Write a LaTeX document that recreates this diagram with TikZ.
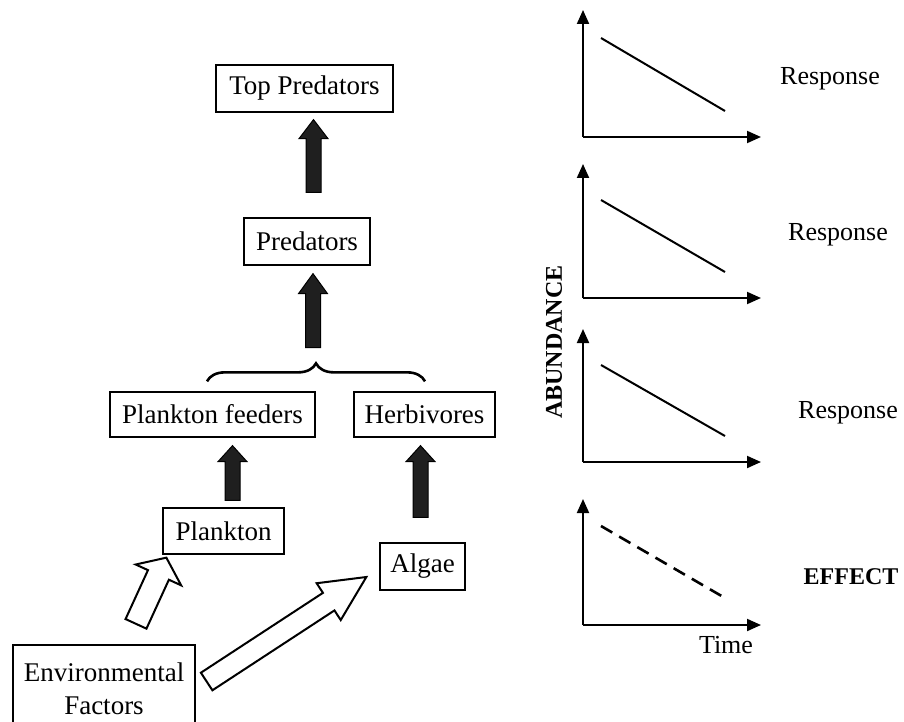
\documentclass[tikz,border=0pt]{standalone}
\usepackage{fontspec}
\setmainfont{Liberation Serif}
\usetikzlibrary{calc,arrows.meta,decorations.pathreplacing}
% fat arrow: #1 style, #2 tail, #3 tip, #4 half shaft, #5 half head, #6 head length
\newcommand\fatarrow[6]{%
  \draw[#1] ($(#2)!#4!90:(#3)$) -- ($(#3)!#6!(#2)!#4!-90:(#2)$)
    -- ($(#3)!#6!(#2)!#5!-90:(#2)$) -- (#3)
    -- ($(#3)!#6!(#2)!#5!90:(#2)$) -- ($(#3)!#6!(#2)!#4!90:(#2)$)
    -- ($(#2)!#4!-90:(#3)$) -- cycle;}
\begin{document}
\begin{tikzpicture}[x=1pt,y=-1pt,
  box/.style={draw, line width=1.3pt, inner sep=0pt, font=\fontsize{27}{32}\selectfont},
  darkarr/.style={draw=black, fill=black!88, line width=1pt, line join=miter},
  openarr/.style={draw=black, fill=white, line width=2pt, line join=miter},
  axis/.style={line width=2pt, -{Triangle[width=12pt,length=14pt]}},
  trend/.style={line width=2pt},
  lbl/.style={font=\fontsize{26}{30}\selectfont},
  blbl/.style={font=\fontsize{24}{28}\selectfont\bfseries}]
\useasboundingbox (0,0) rectangle (904,722);

% boxes
\node[box, minimum width=177, minimum height=47] (top) at (304.5,88.5) {Top Predators};
\node[box, minimum width=126, minimum height=47] (pred) at (307,241.5) {Predators};
\node[box, minimum width=205, minimum height=45] (pf) at (212.5,414.5) {Plankton feeders};
\node[box, minimum width=141, minimum height=45] (herb) at (424.5,414.5) {Herbivores};
\node[box, minimum width=121, minimum height=46] (plank) at (223.5,531) {Plankton};
\node[box, minimum width=85, minimum height=47] (algae) at (422.5,566.5) {Algae};
\node[box, minimum width=182, minimum height=87, align=center] (env) at (104,688.5) {Environmental\\[1pt]Factors};

% dark arrows
\coordinate (a1h) at ($(top.south)+(9,7)$);
\coordinate (a1t) at ($(pred.north)+(6.5,-25)$);
\coordinate (a2h) at ($(pred.south)+(6,8)$);
\coordinate (a2t) at ($(pred.south)+(6,82)$);
\coordinate (a3h) at ($(pf.south)+(20,8)$);
\coordinate (a3t) at ($(plank.north)+(9,-7)$);
\coordinate (a4h) at ($(herb.south)+(-4,8)$);
\coordinate (a4t) at ($(algae.north)+(-2,-25)$);
\fatarrow{darkarr}{a1t}{a1h}{7.5pt}{14.5pt}{19pt}
\fatarrow{darkarr}{a2t}{a2h}{7.5pt}{14.5pt}{20pt}
\fatarrow{darkarr}{a3t}{a3h}{7.5pt}{14.5pt}{16pt}
\fatarrow{darkarr}{a4t}{a4h}{7.5pt}{14.5pt}{16pt}

% open arrows
\coordinate (o1t) at ($(env.north)+(32,-20.5)$);
\coordinate (o1h) at ($(plank.south west)+(4,3)$);
\coordinate (o2t) at ($(env.east)+(11,-7)$);
\coordinate (o2h) at ($(algae.west)+(-13,10.5)$);
\fatarrow{openarr}{o1t}{o1h}{11.5pt}{25pt}{19pt}
\fatarrow{openarr}{o2t}{o2h}{10.5pt}{22pt}{45pt}

% brace
\coordinate (bl) at ($(pf.north)+(-5.5,-10)$);
\coordinate (br) at ($(herb.north)+(0.5,-10)$);
\draw[line width=2.6pt, decorate, decoration={brace, amplitude=18pt}] (bl) -- (br);

% graphs
\foreach \i/\oy/\ty/\ay/\by in {1/137/10/38/111, 2/298/164/200/272, 3/462/329/365/436, 4/625/499/526/598}{
  \coordinate (g\i o) at (583,\oy);
  \coordinate (g\i y) at (583,\ty);
  \coordinate (g\i x) at (761,\oy);
  \coordinate (g\i a) at (601,\ay);
  \coordinate (g\i b) at (725,\by);
  \draw[axis] (g\i o) -- (g\i y);
  \draw[axis] (g\i o) -- (g\i x);
}
\draw[trend] (g1a) -- (g1b);
\draw[trend] (g2a) -- (g2b);
\draw[trend] (g3a) -- (g3b);
\draw[trend, line width=2.6pt, dash pattern=on 13pt off 8pt] (g4a) -- (g4b);

% labels
\node[lbl] (r1) at (830,79) {Response};
\node[lbl] (r2) at (838,235) {Response};
\node[lbl] (r3) at (848,413) {Response};
\node[blbl] (eff) at (851,577) {EFFECT};
\node[lbl] (time) at (726,645) {Time};
\node[blbl, rotate=90] (abund) at (554,342) {ABUNDANCE};
\end{tikzpicture}
\end{document}
